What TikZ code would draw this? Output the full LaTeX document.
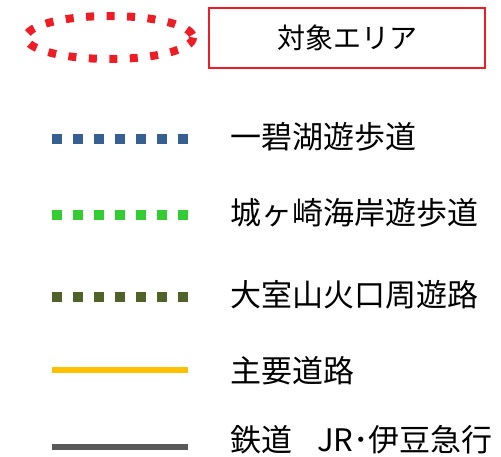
\documentclass[tikz,border=0pt]{standalone}
\usepackage{fontspec}
\setmainfont{Noto Sans CJK JP}
\definecolor{areared}{HTML}{EE1C25}
\definecolor{lakeblue}{HTML}{366092}
\definecolor{coastgreen}{HTML}{33CC33}
\definecolor{craterolive}{HTML}{4F6228}
\definecolor{roadyellow}{HTML}{FFC000}
\definecolor{railgray}{HTML}{595959}
\tikzset{
  dotline/.style={line width=10pt, dash pattern=on 10pt off 11pt},
  solidline/.style={line width=5.5pt},
  lbl/.style={anchor=west, inner sep=0pt, font=\fontsize{31}{34}\selectfont}
}
\begin{document}
\begin{tikzpicture}[x=1pt,y=-1pt]
\useasboundingbox (0,0) rectangle (501,457);
% target area
\draw[areared, line width=8pt, dash pattern=on 8pt off 12.5pt] (109.5,37.5) ellipse [x radius=83.5, y radius=21.5];
\node[draw=areared, line width=1.5pt, minimum width=276pt, minimum height=60pt, inner sep=0pt, font=\fontsize{28}{30}\selectfont] (area) at (347,38) {対象エリア};
% legend lines
\draw[dotline, lakeblue] (52,139.5) -- (188,139.5);
\node[lbl] (l1) at (230,137) {一碧湖遊歩道};
\draw[dotline, coastgreen] (52,215) -- (188,215);
\node[lbl] (l2) at (230,213) {城ヶ崎海岸遊歩道};
\draw[dotline, craterolive] (52,297) -- (188,297);
\node[lbl] (l3) at (230,295) {大室山火口周遊路};
\draw[solidline, roadyellow] (52,370) -- (188,370);
\node[lbl] (l4) at (230,371) {主要道路};
\draw[solidline, railgray] (52,447) -- (188,447);
\node[lbl] (l5) at (230,440) {鉄道\hspace{25pt}JR･伊豆急行};
\end{tikzpicture}
\end{document}
